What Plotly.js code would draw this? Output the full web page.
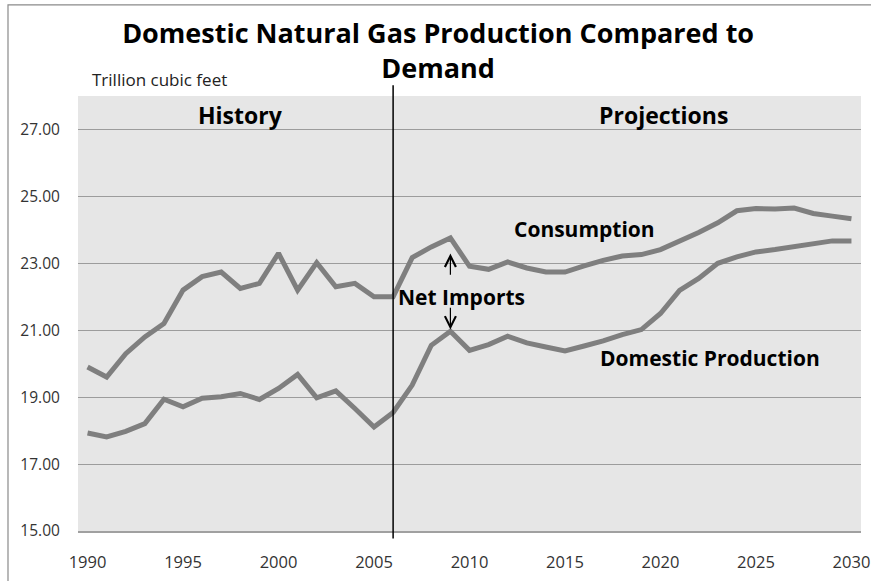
<!DOCTYPE html>
<html>
<head>
<meta charset="utf-8">
<script src="https://cdn.plot.ly/plotly-3.0.1.min.js"></script>
<style>html,body{margin:0;padding:0;background:#fff;}#chart{width:871px;height:581px;}</style>
</head>
<body>
<div id="chart"></div>
<script>
const years = [1990,1991,1992,1993,1994,1995,1996,1997,1998,1999,2000,2001,2002,2003,2004,2005,2006,2007,2008,2009,2010,2011,2012,2013,2014,2015,2016,2017,2018,2019,2020,2021,2022,2023,2024,2025,2026,2027,2028,2029,2030];
const consumption = [19.9,19.6,20.3,20.8,21.2,22.2,22.6,22.74,22.25,22.4,23.3,22.2,23.02,22.3,22.4,22.0,22.0,23.17,23.49,23.76,22.91,22.82,23.04,22.86,22.74,22.74,22.92,23.09,23.22,23.26,23.41,23.66,23.92,24.21,24.57,24.64,24.62,24.65,24.49,24.41,24.33];
const production = [17.93,17.81,17.98,18.21,18.94,18.71,18.97,19.01,19.11,18.93,19.26,19.68,18.98,19.19,18.66,18.11,18.54,19.36,20.55,20.97,20.40,20.57,20.82,20.62,20.50,20.38,20.53,20.68,20.87,21.02,21.5,22.19,22.55,23.0,23.19,23.34,23.41,23.49,23.57,23.67,23.67];
const xTicks = [1990,1995,2000,2005,2010,2015,2020,2025,2030];
const yTicks = [15,17,19,21,23,25,27];
const yTickText = ['15.00','17.00','19.00','21.00','23.00','25.00','27.00'];
const splitYear = 2006;
const importYear = 2009;

const FONT = 'Open Sans, Arial, sans-serif';
const lineStyle = {color:'#7f7f7f', width:5};

const traces = [
  {x: years, y: consumption, type:'scatter', mode:'lines', name:'Consumption', line: lineStyle, hoverinfo:'skip'},
  {x: years, y: production, type:'scatter', mode:'lines', name:'Domestic Production', line: lineStyle, hoverinfo:'skip'}
];

const bold = (s, size) => ({text: '<b>'+s+'</b>', font:{family:FONT, size:size, color:'#000'}, showarrow:false});

const layout = {
  width: 871, height: 581,
  margin: {l:78, r:10, t:96, b:50},
  paper_bgcolor:'#ffffff',
  plot_bgcolor:'#e6e6e6',
  showlegend:false,
  hovermode:false,
  title: {
    text: '<b>Domestic Natural Gas Production Compared to<br>Demand</b>',
    font: {family: FONT, size: 27, color:'#000'},
    x: 0.503, xanchor:'center',
    xref:'container', yref:'container',
    y: 1 - 43/581, yanchor:'middle'
  },
  xaxis: {
    range:[1989.5, 2030.5],
    tickvals: xTicks,
    ticks:'outside', ticklen:15, tickcolor:'rgba(0,0,0,0)',
    showgrid:false, zeroline:false,
    showline:true, linecolor:'#a0a0a0', linewidth:2,
    tickfont:{family:FONT, size:16.5, color:'#333'},
    fixedrange:true
  },
  yaxis: {
    range:[15, 28],
    tickvals: yTicks, ticktext: yTickText,
    ticks:'outside', ticklen:14, tickcolor:'rgba(0,0,0,0)',
    showgrid:true, gridcolor:'#9c9c9c', gridwidth:1,
    zeroline:false, showline:false,
    tickfont:{family:FONT, size:15.5, color:'#333'},
    fixedrange:true
  },
  shapes: [
    {type:'line', xref:'x', yref:'paper', x0:splitYear, x1:splitYear, y0:-0.017, y1:1.025, line:{color:'#000', width:1.5}},
    {type:'rect', xref:'paper', yref:'paper', x0:-0.0894, x1:1.2, y0:-0.3, y1:1.2093, line:{color:'#8a8a8a', width:1.2}, fillcolor:'rgba(0,0,0,0)'}
  ],
  annotations: [
    Object.assign(bold('History', 23), {xref:'x', yref:'y', x:1998.03, y:27.43}),
    Object.assign(bold('Projections', 23), {xref:'x', yref:'y', x:2020.17, y:27.43}),
    Object.assign(bold('Consumption', 21), {xref:'x', yref:'y', x:2016.0, y:24.02}),
    Object.assign(bold('Net Imports', 21), {xref:'x', yref:'y', x:2009.6, y:22.0}),
    Object.assign(bold('Domestic Production', 21), {xref:'x', yref:'y', x:2022.58, y:20.16}),
    {text:'Trillion cubic feet', xref:'paper', yref:'paper', x:(90-78)/783, xanchor:'left', y:1.0368, yanchor:'middle', showarrow:false, font:{family:FONT, size:17, color:'#222'}},
    {text:'', xref:'x', yref:'y', x:importYear, y:23.29, axref:'x', ayref:'y', ax:importYear, ay:22.61, showarrow:true, arrowhead:5, arrowsize:1.8, arrowwidth:1.2, arrowcolor:'#000', standoff:0, startstandoff:0},
    {text:'', xref:'x', yref:'y', x:importYear, y:21.02, axref:'x', ayref:'y', ax:importYear, ay:21.72, showarrow:true, arrowhead:5, arrowsize:1.8, arrowwidth:1.2, arrowcolor:'#000', standoff:0, startstandoff:0}
  ]
};

Plotly.newPlot('chart', traces, layout, {displayModeBar:false, staticPlot:true});
</script>
</body>
</html>
